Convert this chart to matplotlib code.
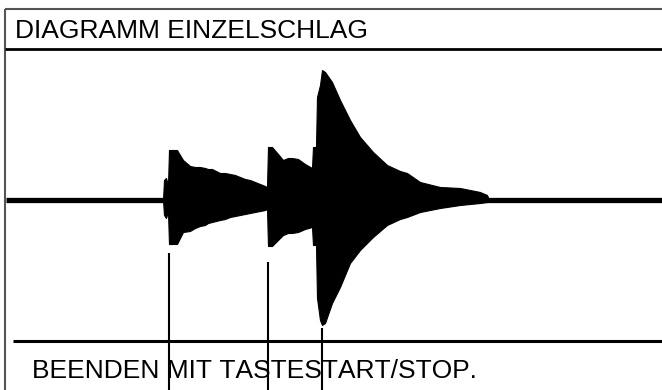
import numpy as np
import matplotlib
matplotlib.use("Agg")
import matplotlib.pyplot as plt

plt.rcParams["text.kerning_factor"] = 6   # praktisch ohne Unterschneidung, wie im Original

''' Daten: Hüllkurve der drei Schläge (x in Pixel-Zeit, Amplitude oben/unten) '''
zeit = [163, 164, 166, 168, 169, 177, 183, 190, 195, 200, 205, 208, 212, 216, 220,
        225, 230, 235, 240, 245, 250, 255, 260, 265, 267,
        268, 272, 278, 283, 288, 292, 298, 305, 312,
        313, 316, 317, 320, 322, 325, 332, 340, 350, 360, 373, 387, 400, 407,
        420, 440, 460, 480, 487, 489]
amp_oben = [0, 20, 22, 15, 50, 50, 40, 34, 33, 33, 32, 31, 31, 29, 27,
            27, 26, 25, 23, 21, 20, 18, 16, 14, 13,
            53, 53, 46, 40, 42, 42, 41, 36, 32,
            53, 53, 103, 115, 130, 128, 118, 100, 80, 63, 48, 35, 29, 27,
            18, 13, 12, 8, 5, 0]
amp_unten = [0, 15, 18, 12, 44, 44, 32, 31, 28, 26, 25, 23, 22, 21, 20,
             19, 17, 16, 15, 14, 13, 12, 11, 10, 9,
             46, 46, 40, 35, 33, 33, 32, 29, 27,
             45, 45, 98, 120, 125, 123, 103, 87, 63, 50, 37, 25, 19, 17,
             12, 8, 5, 3, 2, 0]

# Markierungen der Anschläge (x, Beginn der Linie)
marker_x = [169, 268, 322]
marker_start = [253, 262, 328]

titel = "DIAGRAMM EINZELSCHLAG"
fusszeile = "BEENDEN MIT TASTESTART/STOP."

nulllinie = 200    # Lage der Nulllinie
breite, hoehe = 662, 390

zeit = np.array(zeit)
oben = nulllinie - np.array(amp_oben)
unten = nulllinie + np.array(amp_unten)

fig = plt.figure(figsize=(breite / 100, hoehe / 100), dpi=100)
ax = fig.add_axes([0, 0, 1, 1])
ax.set_xlim(0, breite)
ax.set_ylim(hoehe, 0)
ax.axis("off")

# Rahmen
ax.plot([4.5, 4.5], [9, hoehe], color="#555555", lw=1.5, solid_capstyle="butt")
ax.plot([4.5, breite], [9, 9], color="#555555", lw=1.5, solid_capstyle="butt")
ax.plot([4.5, breite], [49, 49], color="black", lw=2.0, solid_capstyle="butt")
ax.plot([13, breite], [340.5, 340.5], color="black", lw=2.2, solid_capstyle="butt")

# Nulllinie und Signal
ax.plot([6, breite], [nulllinie, nulllinie], color="black", lw=3.8, solid_capstyle="butt")
ax.fill_between(zeit, oben, unten, color="black", lw=0.8, edgecolor="black")

# Senkrechte Marker
for mx, ms in zip(marker_x, marker_start):
    ax.plot([mx, mx], [ms, hoehe], color="black", lw=1.5, solid_capstyle="butt")

schrift = dict(family="Liberation Sans", fontsize=19, color="black")
ax.text(15, 38.5, titel, va="baseline", ha="left", **schrift)
ax.text(32, 377.5, fusszeile, va="baseline", ha="left", **schrift)

fig.savefig("out.png", dpi=100)
